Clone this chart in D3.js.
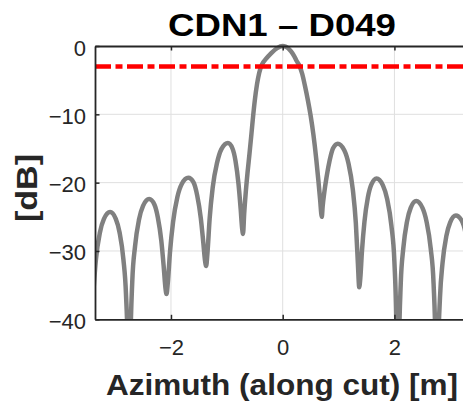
<!DOCTYPE html>
<html><head><meta charset="utf-8">
<script src="https://cdn.jsdelivr.net/npm/d3@7"></script>
<style>
body{margin:0;background:#fff;}
svg{display:block;}
text{font-family:"Liberation Sans",Arial,Helvetica,sans-serif;}
</style>
</head><body>
<svg id="chart" width="463" height="403"></svg>
<script>
// ---- data ----
const titleText = "CDN1 – D049";
const xLabelText = "Azimuth (along cut) [m]";
const yLabelText = "[dB]";
const xTicks = [-2, 0, 2];
const yTicks = [0, -10, -20, -30, -40];
const xDomain = [-3.36, 3.36];
const yDomain = [-40, 0];
const thresholdDb = -3;

const azimuth = [
  -3.393, -3.343, -3.272, -3.200, -3.090, -2.988, -2.920, -2.852, -2.805, -2.770, -2.750,
  -2.729, -2.693, -2.643, -2.572, -2.500, -2.390, -2.297, -2.235, -2.173, -2.130, -2.099, -2.080,
  -2.057, -2.018, -1.963, -1.885, -1.807, -1.690, -1.594, -1.530, -1.466, -1.421, -1.389, -1.370,
  -1.347, -1.308, -1.253, -1.175, -1.097, -0.980, -0.899, -0.845, -0.791, -0.753, -0.726, -0.710,
  -0.690, -0.665, -0.630, -0.595, -0.560, -0.530, -0.500, -0.460, -0.420, -0.370, -0.300, -0.200, -0.100, 0.000,
  0.050, 0.100, 0.150, 0.200, 0.250, 0.300, 0.350, 0.400, 0.450, 0.500, 0.550, 0.600, 0.640, 0.670, 0.700,
  0.715, 0.745, 0.785, 0.842, 0.899, 0.985, 1.102, 1.178, 1.255, 1.309, 1.347, 1.370,
  1.389, 1.419, 1.463, 1.524, 1.586, 1.680, 1.794, 1.870, 1.946, 1.999, 2.037, 2.060,
  2.080, 2.113, 2.159, 2.225, 2.291, 2.390, 2.502, 2.575, 2.649, 2.701, 2.738, 2.760,
  2.780, 2.815, 2.862, 2.930, 2.998, 3.100, 3.200, 3.270, 3.338, 3.385
];
const gainDb = [
  -36.4, -31.2, -27.3, -25.3, -24.3, -25.3, -27.3, -31.2, -36.4, -46.0, -60.0,
  -45.0, -34.5, -29.3, -25.4, -23.4, -22.4, -23.2, -25.1, -28.5, -32.3, -35.4, -36.3,
  -34.7, -30.2, -25.8, -22.1, -20.2, -19.3, -20.0, -21.9, -25.2, -28.8, -31.5, -32.2,
  -30.3, -25.3, -20.7, -17.1, -15.1, -14.2, -15.0, -16.8, -20.2, -23.8, -26.7, -27.5,
  -24.6, -21.8, -18.6, -15.8, -12.9, -10.3, -8.0, -5.6, -3.9, -2.7, -1.9, -1.0, -0.3, 0.0,
  -0.1, -0.35, -0.8, -1.4, -2.2, -2.9, -4.1, -5.9, -7.9, -10.2, -13.0, -16.5, -19.8, -22.5, -25.0,
  -23.5, -21.4, -19.2, -16.7, -15.0, -14.3, -15.25, -17.2, -21.0, -25.9, -32.0, -35.3,
  -34.0, -30.0, -25.75, -22.2, -20.3, -19.4, -20.4, -22.4, -26.3, -31.5, -42.0, -60.0,
  -45.0, -34.8, -29.6, -25.7, -23.7, -22.7, -23.7, -25.7, -29.6, -34.8, -45.0, -60.0,
  -46.0, -36.9, -31.7, -27.8, -25.8, -24.8, -25.5, -27.3, -31.7, -36.9
];

// ---- layout ----
const plotLeft = 95, plotTop = 46, plotBottom = 319.3;
const plotRight = plotLeft + 2 * (282.7 - plotLeft);
const axisColor = "#262626";

const svg = d3.select("#chart");
const x = d3.scaleLinear().domain(xDomain).range([plotLeft, plotRight]);
const y = d3.scaleLinear().domain(yDomain).range([plotBottom, plotTop]);

svg.append("rect").attr("width", 463).attr("height", 403).attr("fill", "#fff");

// grid
const grid = svg.append("g").attr("stroke", "#dfdfdf").attr("stroke-width", 1);
grid.selectAll("line.v").data(xTicks).join("line").attr("class", "v")
  .attr("x1", d => x(d)).attr("x2", d => x(d)).attr("y1", plotTop).attr("y2", plotBottom);
grid.selectAll("line.h").data(yTicks.filter(d => d > yDomain[0] && d < yDomain[1])).join("line").attr("class", "h")
  .attr("y1", d => y(d)).attr("y2", d => y(d)).attr("x1", plotLeft).attr("x2", plotRight);

// clip
svg.append("clipPath").attr("id", "clipPlot").append("rect")
  .attr("x", plotLeft).attr("y", plotTop - 4).attr("width", plotRight - plotLeft).attr("height", plotBottom - plotTop + 4);

const pts = azimuth.map((a, i) => [a, gainDb[i]]);
const line = d3.line().x(d => x(d[0])).y(d => y(d[1])).curve(d3.curveMonotoneX);

svg.append("path").datum(pts)
  .attr("clip-path", "url(#clipPlot)")
  .attr("d", line)
  .attr("fill", "none").attr("stroke", "#808080").attr("stroke-width", 4.5)
  .attr("stroke-linejoin", "round");

// threshold line
svg.append("line")
  .attr("clip-path", "url(#clipPlot)")
  .attr("x1", x(xDomain[0])).attr("x2", x(xDomain[1]))
  .attr("y1", y(thresholdDb)).attr("y2", y(thresholdDb))
  .attr("stroke", "#ff0000").attr("stroke-width", 4.5)
  .attr("stroke-dasharray", "16,4.5,7,4.5");

// axes
const xAxisB = d3.axisBottom(x).tickValues(xTicks).tickSizeInner(-4.5).tickSizeOuter(0).tickFormat(d3.format("d"));
const xAxisT = d3.axisTop(x).tickValues(xTicks).tickSizeInner(-4.5).tickSizeOuter(0).tickFormat("");
const yAxisL = d3.axisLeft(y).tickValues(yTicks).tickSizeInner(-4.5).tickSizeOuter(0).tickFormat(d3.format("d"));

function styleAxis(g) {
  g.select(".domain").attr("stroke", axisColor).attr("stroke-width", 1.8);
  g.selectAll(".tick line").attr("stroke", axisColor).attr("stroke-width", 1.5);
  g.selectAll(".tick text").attr("fill", axisColor).style("font-size", "22px");
}
const gB = svg.append("g").attr("transform", `translate(0,${plotBottom})`).call(xAxisB).call(styleAxis);
gB.selectAll(".tick text").attr("dy", "0").attr("y", 355 - plotBottom);
const gT = svg.append("g").attr("transform", `translate(0,${plotTop})`).call(xAxisT).call(styleAxis);
const gL = svg.append("g").attr("transform", `translate(${plotLeft},0)`).call(yAxisL).call(styleAxis);
gL.selectAll(".tick text").attr("x", 86 - plotLeft).attr("dy", "0").attr("y", 9);

// texts
svg.append("text").attr("x", 282).attr("y", 36).attr("text-anchor", "middle")
  .style("font-size", "31px").style("font-weight", "bold").attr("fill", "#000")
  .attr("textLength", 228).attr("lengthAdjust", "spacingAndGlyphs")
  .text(titleText);
svg.append("text").attr("x", 282).attr("y", 395).attr("text-anchor", "middle")
  .style("font-size", "30px").style("font-weight", "bold").attr("fill", axisColor)
  .attr("textLength", 352).attr("lengthAdjust", "spacingAndGlyphs")
  .text(xLabelText);
svg.append("text").attr("transform", "translate(37,188) rotate(-90)").attr("text-anchor", "middle")
  .style("font-size", "30px").style("font-weight", "bold").attr("fill", axisColor)
  .attr("textLength", 68).attr("lengthAdjust", "spacingAndGlyphs")
  .text(yLabelText);
</script>
</body></html>
